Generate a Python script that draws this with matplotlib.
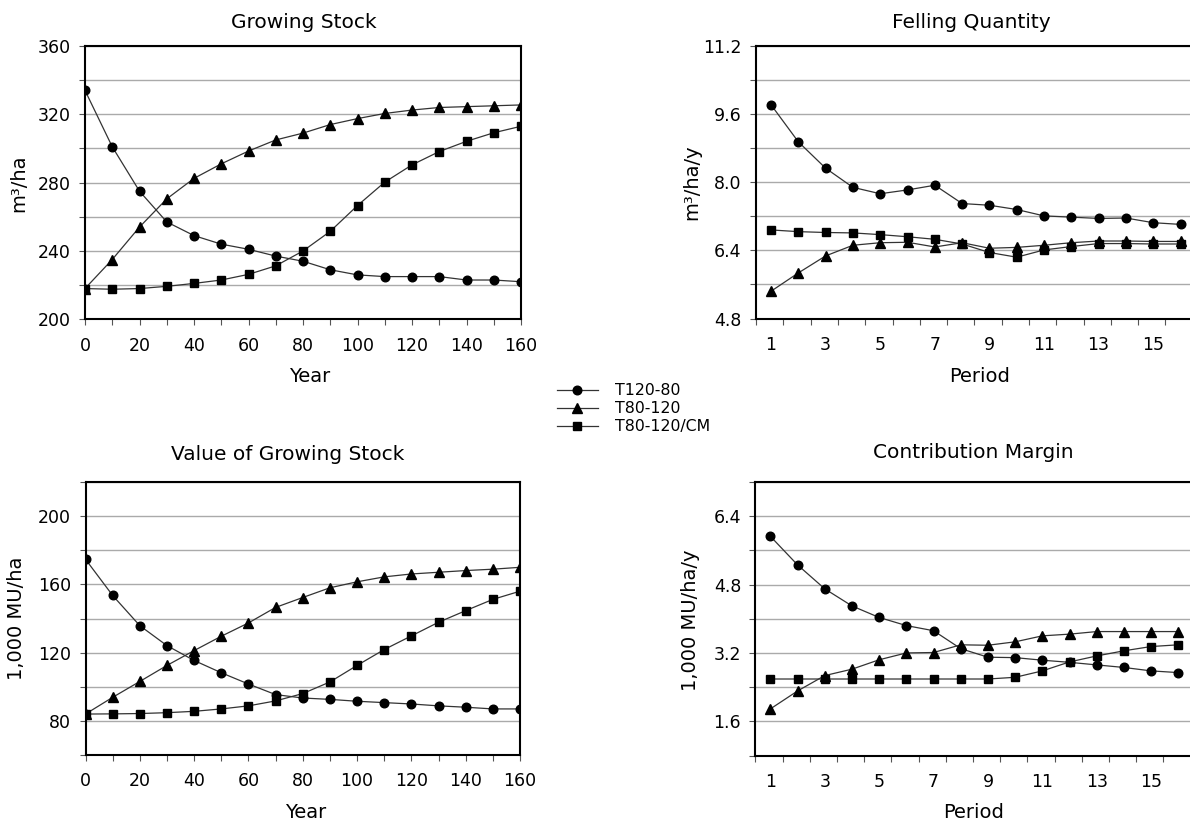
import numpy as np
import matplotlib
matplotlib.use("Agg")
import matplotlib.pyplot as plt
from matplotlib.lines import Line2D
from matplotlib.ticker import MultipleLocator, FixedLocator

plt.rcParams['font.family'] = ['DejaVu Sans']

# data
years = [0, 10, 20, 30, 40, 50, 60, 70, 80, 90, 100, 110, 120, 130, 140, 150, 160]
periods = list(range(1, 17))
names = ['T120-80', 'T80-120', 'T80-120/CM']

stock_t12080 = [334, 301, 275, 257, 249, 244, 241, 237, 234, 229, 226, 225, 225, 225, 223, 223, 222]
stock_t80120 = [218, 235, 254, 270.5, 282.5, 291, 298.5, 305, 309, 314, 317.5, 320.5, 322.5, 324, 324.5, 325, 325.5]
stock_cm = [218, 217.6, 218, 219.3, 221, 223, 226.3, 231.3, 240, 251.5, 266.6, 280.3, 290.4, 298.2, 304.2, 309.2, 313]

fell_t12080 = [9.82, 8.95, 8.33, 7.88, 7.73, 7.82, 7.93, 7.50, 7.46, 7.36, 7.21, 7.18, 7.15, 7.16, 7.05, 7.01]
fell_t80120 = [5.44, 5.87, 6.27, 6.52, 6.58, 6.59, 6.48, 6.58, 6.45, 6.47, 6.52, 6.58, 6.62, 6.62, 6.61, 6.61]
fell_cm = [6.88, 6.84, 6.82, 6.81, 6.77, 6.72, 6.66, 6.55, 6.35, 6.24, 6.41, 6.49, 6.56, 6.56, 6.55, 6.55]

value_t12080 = [174.7, 153.5, 135.8, 124.1, 115.4, 108.2, 101.6, 95.4, 93.4, 92.6, 91.5, 90.7, 89.9, 88.8, 88.0, 87.0, 87.0]
value_t80120 = [84, 93.8, 103.1, 112.5, 121.2, 129.6, 137.4, 146.5, 152.3, 158, 161.5, 164.4, 166.1, 167.1, 168.1, 168.9, 170]
value_cm = [84, 84.1, 84.3, 84.8, 85.6, 87.0, 88.8, 91.7, 96.0, 102.8, 112.5, 121.8, 129.8, 137.8, 144.6, 151.2, 156.0]

cm_t12080 = [5.93, 5.26, 4.70, 4.30, 4.03, 3.84, 3.72, 3.30, 3.10, 3.09, 3.03, 2.98, 2.92, 2.86, 2.78, 2.74]
cm_t80120 = [1.89, 2.31, 2.67, 2.82, 3.04, 3.20, 3.21, 3.39, 3.38, 3.46, 3.60, 3.64, 3.70, 3.70, 3.70, 3.70]
cm_cm = [2.59, 2.59, 2.59, 2.59, 2.59, 2.59, 2.59, 2.59, 2.59, 2.63, 2.78, 2.99, 3.13, 3.25, 3.35, 3.39]

markers = ['o', '^', 's']
msizes = [6.2, 7.0, 5.4]
line_col = '#333333'
grid_col = '#aaaaaa'
W, H = 1190.0, 823.0

fig = plt.figure(figsize=(11.9, 8.23), dpi=100)


def px(x, y):
    # pixel position (from top left) -> figure fraction
    return x / W, 1 - y / H


def rect_px(left, top, right, bottom):
    return [left / W, 1 - bottom / H, (right - left) / W, (bottom - top) / H]


def put_text(x, y, s, size, rot=0):
    fx, fy = px(x, y)
    fig.text(fx, fy, s, fontsize=size, ha='center', va='center', rotation=rot)


def style_axes(ax):
    for s in ax.spines.values():
        s.set_color('black')
        s.set_linewidth(1.5)
    ax.tick_params(which='both', direction='out', length=4, width=0.8, color='#555555',
                   labelsize=12.5)
    ax.tick_params(axis='y', pad=6.3)
    ax.tick_params(axis='x', pad=8.5)
    ax.set_axisbelow(True)


def draw_series(ax, x, series):
    for ys, m, ms in zip(series, markers, msizes):
        ax.plot(x, ys, color=line_col, lw=0.9, marker=m, markersize=ms,
                markerfacecolor='black', markeredgecolor='black', zorder=3)


def year_panel(rect, series, ylim, ymajor):
    ax = fig.add_axes(rect)
    draw_series(ax, years, series)
    ax.set_xlim(0, 160)
    ax.set_ylim(*ylim)
    ax.xaxis.set_major_locator(MultipleLocator(20))
    ax.xaxis.set_minor_locator(MultipleLocator(10))
    ax.yaxis.set_major_locator(MultipleLocator(ymajor))
    ax.yaxis.set_minor_locator(MultipleLocator(ymajor / 2))
    ax.grid(True, which='both', axis='y', color=grid_col, lw=1)
    style_axes(ax)
    return ax


def period_panel(rect, series, ylim, ymajor):
    ax = fig.add_axes(rect)
    draw_series(ax, periods, series)
    ax.set_xlim(0.45, 16.5)
    ax.set_ylim(*ylim)
    ax.xaxis.set_major_locator(FixedLocator(list(range(1, 16, 2))))
    ax.xaxis.set_minor_locator(FixedLocator(list(np.arange(0.45, 16.5, 1.0))))
    ax.yaxis.set_major_locator(MultipleLocator(ymajor))
    ax.yaxis.set_minor_locator(MultipleLocator(ymajor / 2))
    ax.grid(True, which='both', axis='y', color=grid_col, lw=1)
    style_axes(ax)
    ax.tick_params(axis='x', which='major', length=0, pad=12.5)
    ax.yaxis.set_major_formatter(plt.FormatStrFormatter('%.1f'))
    return ax


year_panel(rect_px(85, 46, 521, 319.3), [stock_t12080, stock_t80120, stock_cm], (200, 360), 40)
period_panel(rect_px(756, 46, 756 + 16.05 * 27.3, 318.5), [fell_t12080, fell_t80120, fell_cm],
             (4.8, 11.2), 1.6)
year_panel(rect_px(85.5, 482, 520, 755), [value_t12080, value_t80120, value_cm], (60, 220), 40)
period_panel(rect_px(755.4, 482, 755.4 + 16.05 * 27.2, 755.5), [cm_t12080, cm_t80120, cm_cm],
             (0.8, 7.2), 1.6)

# titles and axis labels
put_text(303.6, 22, 'Growing Stock', 14.5)
put_text(971.5, 22, 'Felling Quantity', 14.5)
put_text(288, 455, 'Value of Growing Stock', 14.5)
put_text(973.4, 453, 'Contribution Margin', 14.5)
put_text(310, 377, 'Year', 14)
put_text(980, 377, 'Period', 14)
put_text(305.7, 812, 'Year', 14)
put_text(973.4, 812, 'Period', 14)
put_text(19, 183, 'm³/ha', 14, 90)
put_text(692, 182, 'm³/ha/y', 14, 90)
put_text(17, 618, '1,000 MU/ha', 14, 90)
put_text(690, 620, '1,000 MU/ha/y', 14, 90)

handles = [Line2D([], [], color=line_col, lw=0.9, marker=m, markersize=ms,
                  markerfacecolor='black', markeredgecolor='black')
           for m, ms in zip(markers, msizes)]
fig.legend(handles, names, loc='upper left', bbox_to_anchor=px(556.7, 383), frameon=False,
           fontsize=11.3, handlelength=2.6, labelspacing=0.2, handletextpad=1.1,
           borderpad=0, borderaxespad=0)

fig.savefig('out.png', dpi=100)
